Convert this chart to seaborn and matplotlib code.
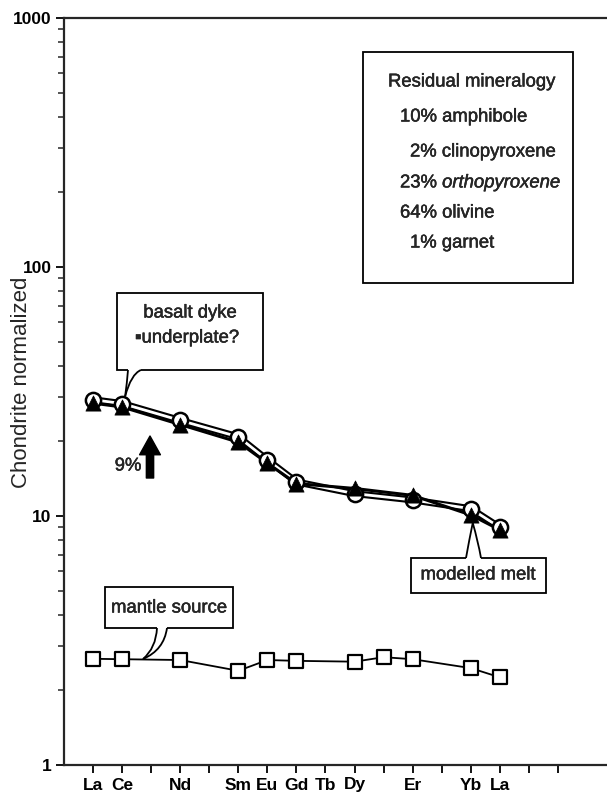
import matplotlib
matplotlib.use("Agg")
import matplotlib.pyplot as plt
from matplotlib.path import Path
from matplotlib.patches import PathPatch, Rectangle
from matplotlib.ticker import LogLocator, NullFormatter, FixedLocator
import matplotlib.patheffects as pe
import pandas as pd
import seaborn as sns

# ---- data -------------------------------------------------------------
elements = ["La", "Ce", "Pr", "Nd", "Pm", "Sm", "Eu", "Gd", "Tb", "Dy",
            "Ho", "Er", "Tm", "Yb", "Lu"]
tick_labels = ["La", "Ce", "", "Nd", "", "Sm", "Eu", "Gd", "Tb", "Dy",
               "", "Er", "", "Yb", "La", "", ""]

dyke_elems = ["La", "Ce", "Nd", "Sm", "Eu", "Gd", "Dy", "Er", "Yb", "Lu"]
dyke_vals = [29.3, 28.3, 24.2, 20.8, 16.8, 13.7, 12.3, 11.6, 10.7, 9.0]
melt_vals = [28.4, 27.4, 23.3, 19.8, 16.3, 13.5, 12.9, 12.1, 10.1, 8.8]

mantle_elems = ["La", "Ce", "Nd", "Sm", "Eu", "Gd", "Dy", "Ho", "Er", "Yb", "Lu"]
mantle_vals = [2.67, 2.66, 2.64, 2.39, 2.64, 2.62, 2.60, 2.71, 2.66, 2.45, 2.25]

residual_title = "Residual mineralogy"
residual_lines = ["10% amphibole", "2% clinopyroxene",
                  r"23% $\mathit{orthopyroxene}$", "64% olivine", "1% garnet"]

pos = {e: i + 1 for i, e in enumerate(elements)}
dyke = pd.DataFrame({"x": [pos[e] for e in dyke_elems], "dyke": dyke_vals,
                     "melt": melt_vals})
mantle = pd.DataFrame({"x": [pos[e] for e in mantle_elems], "y": mantle_vals})

# ---- style ------------------------------------------------------------
sns.set_style("ticks")
plt.rcParams["font.family"] = ["Liberation Sans", "DejaVu Sans"]
plt.rcParams["mathtext.fontset"] = "custom"
plt.rcParams["mathtext.rm"] = "Liberation Sans"
plt.rcParams["mathtext.it"] = "Liberation Sans:italic"

W, H = 607, 793
fig = plt.figure(figsize=(W / 100, H / 100), dpi=100)
L, T, R, B = 64, 18, 607, 765
ax = fig.add_axes([L / W, (H - B) / H, (R - L) / W, (B - T) / H])

ax.set_yscale("log")
ax.set_ylim(1, 1000)
ax.set_xlim(0, 18.69)

# ---- series -----------------------------------------------------------
sns.lineplot(data=mantle, x="x", y="y", color="black", lw=1.3, sort=False,
             ax=ax, zorder=2, legend=False)
sns.scatterplot(data=mantle, x="x", y="y", marker="s", s=90,
                facecolor="white", edgecolor="black", linewidth=1.6,
                ax=ax, zorder=3, legend=False)

# basalt dyke: hollow double line with open circles
sns.lineplot(data=dyke, x="x", y="dyke", color="black", lw=5.0, sort=False,
             ax=ax, zorder=2, legend=False)
sns.lineplot(data=dyke, x="x", y="dyke", color="white", lw=2.0, sort=False,
             ax=ax, zorder=2.1, legend=False)
# modelled melt: solid line with filled triangles
sns.lineplot(data=dyke, x="x", y="melt", color="black", lw=2.2, sort=False,
             ax=ax, zorder=3, legend=False)
sns.scatterplot(data=dyke, x="x", y="dyke", marker="o", s=120,
                facecolor="white", edgecolor="black", linewidth=1.8,
                ax=ax, zorder=4, legend=False)
sns.scatterplot(data=dyke, x="x", y="melt", marker="^", s=120,
                color="black", edgecolor="black", linewidth=0.5,
                ax=ax, zorder=5, legend=False)

# ---- axes -------------------------------------------------------------
for side in ("left", "top", "bottom"):
    ax.spines[side].set_linewidth(1.6)
ax.spines["right"].set_visible(False)

ax.xaxis.set_major_locator(FixedLocator(range(1, len(tick_labels) + 1)))
ax.set_xticklabels(tick_labels, fontsize=12.5, fontweight="bold")
ax.yaxis.set_major_locator(FixedLocator([1, 10, 100, 1000]))
ax.set_yticklabels(["1", "10", "100", "1000"], fontsize=12.5,
                   fontweight="bold")
ax.yaxis.set_minor_locator(LogLocator(base=10, subs=range(2, 10)))
ax.yaxis.set_minor_formatter(NullFormatter())
ax.tick_params(axis="both", which="major", direction="out", length=6,
               width=1.3, pad=3, colors="black")
ax.tick_params(axis="y", which="minor", direction="out", length=4, width=1.1)
ax.tick_params(axis="x", which="minor", bottom=False)
ax.set_xlabel("")
ax.set_ylabel("")
fig.text(22 / W, 1 - 382 / H, "Chondrite normalized", rotation=90,
         ha="center", va="center", fontsize=16)

heavy = [pe.withStroke(linewidth=0.3, foreground="black")]


# ---- annotations --------------------------------------------------------
def px(x, y):
    return ((x - L) / (R - L), (B - y) / (B - T))


def data_px(x, y):
    dx, dy = ax.transData.transform((x, y))
    return dx, H - dy


def box(x0, y0, x1, y1, z=6):
    ax.add_patch(Rectangle(px(x0, y1), (x1 - x0) / (R - L),
                           (y1 - y0) / (B - T), transform=ax.transAxes,
                           fc="white", ec="black", lw=1.3, zorder=z,
                           clip_on=False))


def tail(b1, c1, tip, c2, b2, inward, z=7):
    # white wedge that opens the box border, then its two curved edges
    sh = (b1[0], b1[1] + inward), (b2[0], b2[1] + inward)
    fill = Path([px(*sh[0]), px(*b1), px(*c1), px(*tip), px(*c2), px(*b2),
                 px(*sh[1]), px(*sh[0])],
                [Path.MOVETO, Path.LINETO, Path.CURVE3, Path.CURVE3,
                 Path.CURVE3, Path.CURVE3, Path.LINETO, Path.CLOSEPOLY])
    ax.add_patch(PathPatch(fill, transform=ax.transAxes, fc="white",
                           ec="none", zorder=z, clip_on=False))
    for a, c, b in ((b1, c1, tip), (tip, c2, b2)):
        p = Path([px(*a), px(*c), px(*b)],
                 [Path.MOVETO, Path.CURVE3, Path.CURVE3])
        ax.add_patch(PathPatch(p, transform=ax.transAxes, fc="none",
                               ec="black", lw=1.3, zorder=z + 0.1,
                               clip_on=False))


def label(x, y, s, ha="center", size=13.3, **kw):
    ax.text(*px(x, y), s, transform=ax.transAxes, ha=ha, va="center",
            fontsize=size, zorder=9, path_effects=heavy, **kw)


# residual mineralogy box
box(363, 52, 573, 283)
label(388, 82, residual_title, ha="left")
for (x, y), s in zip([(400, 117), (410, 152), (400, 183), (400, 213),
                      (410, 243)], residual_lines):
    label(x, y, s, ha="left")

# basalt dyke / underplate callout
box(117, 293, 263, 370)
label(190, 313, "basalt dyke")
label(187, 338, "\u25aaunderplate?")
cx, cy = data_px(pos["Ce"], dyke_vals[1])
tip = (cx + 3, cy - 7)
tail((128, 370), (127, 383), tip, (131, 374), (141, 370), -2)

# mantle source callout
box(105, 587, 233, 628)
label(169, 608, "mantle source")
tail((157, 628), (156, 648), (143, 659), (164, 650), (167, 628), -2)

# modelled melt callout
box(411, 558, 546, 593)
label(478, 575, "modelled melt")
yx, yy = data_px(pos["Yb"], melt_vals[8])
tip = (yx + 2, yy + 8)
tail((466, 558), (469, 541), tip, (478, 541), (481, 558), 2)

# melting increment arrow
ax.annotate("", xy=px(150, 436), xytext=px(150, 478),
            xycoords="axes fraction", textcoords="axes fraction",
            arrowprops=dict(arrowstyle="simple,head_length=0.9,"
                                       "head_width=1.0,tail_width=0.35",
                            fc="black", ec="black", mutation_scale=15,
                            shrinkA=0, shrinkB=0))
label(128, 466, "9%")

fig.savefig("out.png", dpi=100)
